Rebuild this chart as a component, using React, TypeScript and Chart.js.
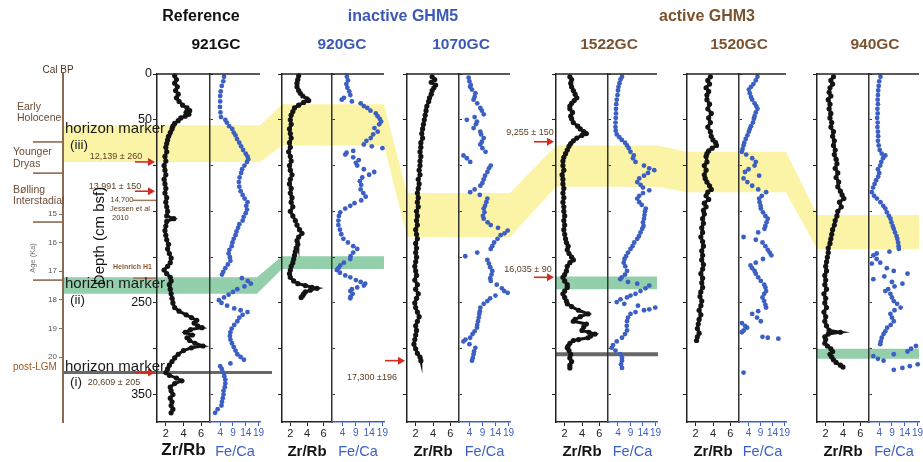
import React, { useEffect, useRef } from 'react';
import { Chart, registerables } from 'chart.js';

Chart.register(...registerables);

const FONT = "'Liberation Sans', Arial, Helvetica, sans-serif";

// ---------------- data ----------------
const coreNames = ['921GC', '920GC', '1070GC', '1522GC', '1520GC', '940GC'];
const groupNames = ['Reference', 'inactive GHM5', 'active GHM3'];
const zrTicks = [2, 4, 6];
const feTicks = [4, 9, 14, 19];
const zrRange = [1, 7];
const feRange = [0, 19.6];
const depthRange = [0, 380];
const depthTicks = [0, 50, 100, 150, 200, 250, 300, 350];
const depthLabelsShown = [0, 50, 250, 350];
const ageRange = [10.105, 22.27];
const ageTicks = [15, 16, 17, 18, 19, 20];
const periodBoundaries = [12.48, 13.57, 15.28, 17.31];

// horizon (iii) yellow band, per core: depth top / bottom (cm bsf)
const yellowTop = [56, 33, 130, 78, 85, 154];
const yellowBottom = [96, 78, 178, 123, 129, 191];
// horizon (ii) green band
const greenTop = [222, 199, null, 221, null, 300];
const greenBottom = [240, 213, null, 235, null, 311];
// horizon (i) grey line
const grayLineDepth = [326, null, null, 306, null, null];

// radiocarbon dates (red arrows)
const dateCore = [0, 0, 0, 2, 3, 3];
const dateDepth = [96, 128, 326, 313, 74, 222];
const dateLabel = ['12,139 ± 260', '13,991 ± 150', '20,609 ± 205', '17,300 ±196', '9,255 ± 150', '16,035 ± 90'];
// brown reference markers in 921GC
const refDepth = [138, 223];

// [depth cm, Zr/Rb]
const zr921: [number, number][] = [[2,3.0],[6,3.2],[10,3.0],[14,3.3],[18,3.1],[22,3.4],[26,3.2],[30,3.5],[34,3.9],[37,4.4],[40,4.7],[42,4.3],[44,4.6],[46,4.2],[48,3.7],[51,3.4],[54,3.0],[57,2.8],[60,2.7],[64,2.5],[68,2.3],[72,2.2],[76,2.1],[80,2.0],[85,2.1],[90,1.9],[95,2.0],[100,1.8],[105,1.9],[110,2.0],[115,1.8],[120,1.9],[125,2.0],[130,1.9],[135,2.1],[140,2.0],[145,2.1],[150,2.2],[155,2.1],[158,2.9],[161,2.1],[166,2.0],[171,1.9],[176,2.0],[181,2.1],[186,2.3],[191,2.2],[196,2.4],[201,2.6],[206,2.5],[210,2.2],[214,1.8],[218,2.1],[222,2.5],[226,2.6],[230,2.4],[235,2.5],[240,2.6],[245,2.7],[250,2.8],[255,3.0],[259,3.5],[263,4.3],[266,4.9],[269,5.5],[272,5.2],[275,5.6],[277,6.1],[279,4.8],[282,4.2],[285,5.0],[288,4.4],[291,4.7],[294,5.3],[297,6.2],[299,4.9],[302,4.0],[306,3.4],[310,3.0],[314,2.7],[318,2.4],[322,2.2],[326,2.0],[329,2.4],[332,3.2],[335,3.8],[338,3.0],[342,2.5],[346,2.6],[350,2.8],[354,2.5],[358,2.7],[362,2.6],[366,2.8],[370,2.6]];
const zr920: [number, number][] = [[2,3.0],[6,2.9],[10,2.8],[14,2.8],[18,3.0],[21,3.2],[24,3.5],[27,4.0],[29,4.2],[31,3.6],[34,3.0],[37,2.5],[41,2.3],[45,2.1],[50,2.0],[55,2.1],[60,1.9],[65,2.0],[70,2.1],[75,1.9],[80,2.0],[85,1.8],[90,2.0],[95,2.1],[100,1.9],[105,2.0],[110,2.2],[115,2.0],[120,1.9],[125,2.1],[130,2.0],[135,2.2],[140,2.1],[145,2.3],[150,2.0],[155,2.3],[160,2.6],[165,2.8],[170,3.1],[174,3.4],[178,3.0],[182,2.8],[186,2.9],[190,2.7],[194,2.6],[198,2.5],[202,2.4],[206,2.3],[210,2.1],[214,2.0],[218,1.9],[222,2.0],[226,2.4],[229,2.9],[231,3.8],[233,4.6],[234,5.2],[236,4.4],[238,3.8],[240,3.6],[242,3.5],[244,3.3]];
const zr1070: [number, number][] = [[3,3.9],[6,4.2],[9,3.8],[12,4.3],[15,4.1],[18,3.9],[22,3.8],[26,3.6],[30,3.5],[35,3.3],[40,3.2],[45,3.1],[50,3.0],[55,2.9],[60,2.8],[65,2.7],[70,2.8],[75,2.6],[80,2.6],[85,2.5],[90,2.6],[95,2.5],[100,2.5],[105,2.4],[110,2.5],[115,2.3],[120,2.4],[125,2.3],[130,2.2],[135,2.3],[140,2.2],[145,2.3],[150,2.1],[155,2.2],[160,2.1],[165,2.2],[170,2.0],[175,2.1],[180,2.2],[185,2.0],[190,2.1],[195,2.0],[200,2.1],[205,2.0],[210,1.9],[215,2.0],[220,2.1],[225,1.9],[230,2.2],[235,2.0],[240,2.3],[245,2.1],[250,1.9],[255,2.0],[260,2.2],[265,2.4],[270,2.2],[275,2.0],[280,2.1],[285,2.0],[290,1.9],[295,1.8],[300,2.0],[305,2.2],[309,2.5],[313,2.6]];
const zr1522: [number, number][] = [[3,2.6],[6,2.8],[10,2.7],[14,2.8],[18,3.0],[22,3.2],[26,3.4],[29,3.1],[32,2.8],[35,2.6],[38,2.6],[42,2.9],[46,2.7],[49,2.8],[53,3.0],[57,3.5],[60,3.8],[63,4.2],[65,4.5],[67,4.0],[70,3.4],[73,3.0],[76,2.7],[79,2.5],[83,2.3],[87,2.1],[91,1.9],[95,1.8],[100,1.8],[105,1.9],[110,1.7],[115,1.8],[120,1.8],[125,1.9],[130,1.8],[135,1.9],[140,1.8],[145,1.9],[150,1.9],[155,2.0],[160,1.9],[165,2.0],[170,1.9],[175,2.0],[180,2.1],[184,2.2],[188,2.4],[192,2.3],[196,2.5],[200,2.8],[203,3.0],[206,2.6],[210,2.3],[215,2.2],[219,2.0],[222,1.8],[226,2.0],[230,2.3],[233,2.3],[237,2.0],[240,1.8],[244,2.0],[248,2.2],[251,2.3],[254,2.8],[258,3.6],[262,4.7],[265,3.8],[268,3.2],[270,3.0],[273,4.5],[276,4.2],[280,4.0],[282,4.8],[284,5.5],[286,5.0],[288,4.7],[290,3.6],[291,3.0],[294,2.6],[297,2.4],[299,2.3],[302,2.5],[306,2.7],[310,2.6],[314,2.8],[318,2.6],[321,2.6]];
const zr1520: [number, number][] = [[3,3.7],[7,3.4],[11,3.6],[15,3.2],[19,3.5],[23,3.3],[28,3.3],[33,3.6],[38,3.4],[43,3.8],[48,3.5],[53,3.7],[58,3.4],[63,3.7],[68,3.8],[72,4.0],[75,4.3],[78,4.4],[81,3.9],[84,3.5],[87,3.3],[90,3.2],[96,3.3],[100,3.0],[105,3.2],[110,3.0],[114,3.1],[118,3.3],[122,3.6],[126,3.8],[129,3.4],[133,3.2],[137,3.5],[141,3.0],[145,3.2],[149,2.9],[153,3.0],[158,2.8],[163,2.9],[168,2.7],[173,2.8],[178,2.6],[183,2.8],[188,2.9],[193,2.7],[198,2.8],[203,2.7],[208,2.9],[213,2.8],[218,2.6],[223,2.8],[228,2.7],[233,2.8],[238,2.6],[243,2.5],[248,2.7],[253,2.6],[258,2.4],[263,2.6],[268,2.4],[273,2.3],[278,2.2],[283,2.4],[287,2.2],[291,2.1]];
const zr940: [number, number][] = [[3,2.9],[7,2.6],[11,2.8],[15,2.5],[20,2.4],[24,2.6],[28,2.3],[33,2.5],[38,2.4],[43,2.6],[48,2.5],[53,2.7],[58,2.6],[63,2.9],[68,2.8],[73,3.0],[78,2.9],[83,3.1],[88,3.0],[93,3.2],[98,3.3],[103,3.1],[108,3.4],[113,3.2],[118,3.5],[123,3.4],[128,3.7],[132,3.9],[136,4.1],[140,3.6],[145,3.8],[150,3.4],[155,3.3],[160,3.1],[165,3.0],[170,2.8],[175,2.7],[180,2.6],[185,2.5],[190,2.3],[195,2.3],[200,2.2],[205,2.1],[210,2.0],[215,2.1],[220,1.9],[225,2.0],[230,1.9],[235,2.1],[240,1.8],[245,2.0],[250,1.9],[255,2.1],[260,1.8],[265,2.0],[270,1.9],[275,2.1],[280,2.4],[282,3.7],[284,2.3],[287,1.9],[290,2.0],[294,1.9],[297,2.2],[300,2.6],[303,2.8],[306,2.5],[309,2.7],[312,2.9],[315,3.2],[318,3.7],[320,4.0]];

// [depth cm, Fe/Ca]
const fe921: [number, number][] = [[3,5.5],[8,5.2],[13,4.6],[19,4.2],[24,4.0],[30,4.0],[36,3.9],[42,4.1],[47,4.3],[50,6.0],[53,6.6],[57,7.5],[60,8.7],[64,9.3],[67,10.0],[71,10.6],[75,11.5],[79,12.2],[83,13.0],[87,14.0],[90,14.7],[93,15.0],[96,14.5],[100,13.5],[104,12.6],[108,12.2],[113,11.6],[118,11.3],[123,11.5],[128,12.0],[132,12.8],[136,13.6],[140,14.7],[144,14.2],[148,14.5],[152,14.0],[156,13.2],[160,12.8],[164,11.5],[168,11.0],[172,10.4],[176,10.0],[180,9.3],[184,8.8],[188,8.5],[192,7.6],[196,7.3],[200,7.8],[204,8.0],[208,7.0],[212,6.0],[216,5.2],[219,4.7],[223,12.5],[226,14.8],[229,16.0],[232,13.5],[235,10.7],[238,9.0],[241,7.3],[244,5.5],[247,3.5],[250,4.5],[253,6.7],[256,9.5],[258,12.0],[260,14.7],[263,12.8],[266,11.5],[270,10.7],[274,9.5],[278,8.5],[282,8.0],[286,7.8],[290,8.0],[294,8.6],[298,9.3],[302,10.0],[306,10.7],[309,12.0],[312,13.3],[316,8.0],[319,4.0],[322,4.6],[326,5.3],[330,5.6],[334,6.0],[338,6.0],[342,5.8],[346,5.3],[350,5.3],[354,5.0],[358,4.7],[362,4.5],[366,3.0],[370,2.0]];
const fe920: [number, number][] = [[3,5.6],[7,6.0],[11,5.4],[15,5.8],[19,6.5],[23,6.9],[26,4.5],[28,3.7],[30,7.5],[32,10.8],[35,12.0],[37,13.3],[40,14.5],[43,16.5],[46,17.2],[49,18.0],[52,18.5],[55,17.8],[59,16.0],[63,17.2],[66,15.5],[70,14.6],[73,13.0],[77,12.0],[79,15.0],[81,19.0],[84,8.0],[86,5.5],[88,5.0],[91,8.0],[94,10.1],[97,9.0],[100,9.5],[104,12.0],[107,15.9],[110,14.0],[113,11.4],[117,10.5],[121,11.0],[126,10.8],[130,11.8],[134,12.7],[138,11.0],[141,8.5],[144,6.9],[147,5.0],[151,3.1],[155,2.6],[160,2.4],[165,2.4],[170,3.0],[175,3.5],[180,4.3],[184,6.0],[188,8.0],[191,9.5],[195,8.0],[199,7.0],[202,6.9],[206,4.5],[209,3.1],[212,2.4],[214,1.8],[217,3.0],[220,5.0],[222,6.9],[225,9.0],[227,10.8],[229,12.5],[231,12.0],[233,9.5],[235,7.5],[237,6.9],[240,7.8],[243,7.0],[245,6.9]];
const fe1070: [number, number][] = [[4,3.7],[8,4.0],[12,4.5],[14,4.3],[17,5.0],[21,6.3],[25,6.0],[28,5.6],[32,7.0],[37,8.2],[40,8.8],[44,9.5],[47,6.0],[50,3.0],[52,6.9],[55,6.5],[59,5.6],[63,8.2],[66,8.5],[70,9.5],[74,8.8],[77,8.2],[81,9.0],[85,10.2],[89,1.7],[92,3.0],[96,4.3],[100,12.2],[103,11.5],[107,10.9],[111,10.0],[115,9.5],[119,9.0],[122,8.2],[126,6.0],[129,4.3],[132,8.0],[136,10.9],[140,10.5],[144,10.0],[147,9.5],[151,9.8],[155,9.2],[158,9.5],[162,11.0],[165,12.2],[168,15.0],[171,18.7],[174,17.5],[176,16.0],[180,14.8],[184,13.5],[188,12.8],[191,12.2],[195,7.0],[199,2.4],[203,10.9],[207,11.5],[211,12.0],[215,12.8],[219,12.5],[223,12.0],[226,12.2],[230,14.5],[234,16.5],[237,17.4],[239,18.7],[242,14.0],[245,12.0],[248,10.9],[251,9.5],[255,8.2],[259,8.0],[262,7.8],[266,7.6],[270,7.3],[274,7.0],[277,6.9],[281,6.0],[284,5.2],[288,4.3],[290,2.5],[292,1.7],[295,4.0],[299,6.3],[303,5.8],[306,5.6],[310,5.3],[313,5.0]];
const fe1522: [number, number][] = [[3,5.6],[6,5.0],[10,4.6],[14,4.2],[18,4.0],[23,3.8],[28,3.5],[33,3.3],[38,3.2],[43,3.2],[48,3.1],[53,3.0],[58,3.0],[62,3.1],[66,3.5],[69,4.5],[72,5.5],[75,6.8],[78,7.6],[81,8.3],[85,9.0],[89,10.3],[92,10.0],[96,11.0],[100,14.4],[103,16.5],[105,18.5],[108,16.0],[111,14.4],[114,12.5],[118,11.7],[121,13.0],[124,14.0],[127,16.5],[130,14.0],[133,12.5],[136,11.7],[140,12.5],[143,13.5],[147,15.1],[150,14.8],[154,14.6],[158,14.4],[162,14.0],[166,14.2],[169,13.7],[173,13.0],[177,12.4],[180,11.7],[184,10.5],[188,9.8],[191,9.0],[195,8.0],[199,7.2],[202,6.6],[206,6.3],[210,6.9],[215,7.6],[219,6.8],[222,5.5],[224,4.9],[227,8.0],[229,11.7],[231,16.5],[234,15.0],[237,13.0],[240,11.0],[242,9.0],[244,7.6],[246,5.0],[249,3.5],[251,6.5],[253,12.0],[255,18.9],[257,16.5],[258,14.4],[260,11.0],[262,9.0],[266,8.0],[270,7.6],[275,7.5],[280,7.6],[284,6.8],[288,5.6],[292,3.5],[296,2.0],[299,1.5],[302,3.0],[306,4.9],[310,5.6],[313,5.6],[317,5.2],[321,5.6]];
const fe1520: [number, number][] = [[3,7.7],[7,7.0],[11,6.0],[14,5.0],[17,4.1],[21,4.5],[25,5.0],[28,5.5],[32,6.5],[35,7.2],[38,7.7],[42,7.0],[46,6.5],[49,6.2],[53,5.8],[57,5.0],[60,4.5],[63,4.1],[67,3.5],[71,2.8],[75,2.2],[78,1.9],[82,1.5],[85,1.2],[88,3.0],[92,5.5],[96,7.0],[100,6.5],[104,4.0],[107,2.5],[111,8.4],[114,1.9],[118,3.5],[122,5.5],[126,8.0],[129,11.3],[133,9.5],[136,8.4],[140,8.6],[144,9.0],[147,9.1],[151,10.0],[155,11.0],[158,12.0],[162,11.5],[166,11.0],[169,10.6],[173,8.0],[178,1.9],[181,7.0],[184,9.8],[188,11.0],[192,12.0],[195,12.8],[198,13.5],[202,10.0],[206,7.0],[209,4.8],[212,5.5],[215,6.5],[218,7.0],[222,8.0],[226,9.1],[230,10.5],[233,11.0],[237,11.3],[240,10.5],[244,9.8],[248,10.5],[252,11.0],[255,11.3],[259,8.0],[262,5.5],[266,7.5],[270,9.1],[272,1.2],[275,2.5],[277,3.4],[280,2.0],[282,1.2],[287,9.8],[288,12.0],[289,16.4],[326,1.9]];
const fe940: [number, number][] = [[3,4.5],[8,4.0],[13,3.8],[18,3.6],[23,3.5],[28,3.4],[33,3.5],[38,3.3],[43,3.4],[48,3.2],[53,3.4],[58,3.3],[63,3.5],[68,3.6],[73,3.5],[78,3.8],[83,4.2],[87,5.0],[89,6.4],[92,5.5],[96,4.8],[100,4.4],[104,3.5],[108,4.0],[112,3.6],[116,2.8],[120,2.2],[124,1.6],[129,1.1],[133,2.0],[136,3.1],[140,4.5],[144,5.6],[147,6.4],[151,7.0],[155,7.8],[158,8.4],[162,8.8],[166,9.3],[169,9.7],[173,10.2],[177,10.8],[180,11.1],[184,11.4],[188,11.6],[191,11.7],[194,8.0],[196,3.0],[198,1.7],[202,3.0],[206,4.4],[207,1.1],[212,7.0],[215,9.7],[218,15.1],[221,6.0],[224,1.7],[227,9.0],[229,13.1],[232,10.0],[235,7.5],[237,6.4],[240,8.4],[244,9.0],[248,9.7],[251,11.0],[255,12.4],[258,10.0],[262,8.4],[266,9.0],[270,9.7],[274,8.5],[277,7.1],[281,6.4],[284,5.7],[288,5.0],[292,4.6],[295,4.4],[297,18.4],[300,16.5],[303,15.1],[306,9.7],[308,1.7],[311,3.5],[313,5.7],[317,19.1],[319,16.0],[321,13.1],[323,9.7]];

const zrSeries = [zr921, zr920, zr1070, zr1522, zr1520, zr940];
const feSeries = [fe921, fe920, fe1070, fe1522, fe1520, fe940];

// ---------------- layout / style ----------------
const W = 923, H = 462;
const PANEL_TOP = 74, PANEL_BOTTOM = 422;
const PANELS = [
  { zr: [157, 210], fe: [210, 260] },
  { zr: [282, 332], fe: [332, 384] },
  { zr: [407, 459], fe: [459, 510] },
  { zr: [556, 608], fe: [608, 657] },
  { zr: [687, 739], fe: [739, 786] },
  { zr: [817, 869], fe: [869, 919] },
];
const YW = 30, PADL = 2, PADR = 14, PADT = 10, XH = 40;
const BLACK = '#141414';
const BLUE = '#3c5fc3';
const BROWN_T = '#7b5230';
const YELLOW = '#fbf3a6';
const GREEN = '#93cfab';
const GRAY = '#686868';
const RED = '#d22b22';
const AXIS_BROWN = '#8b6a4f';
const TXT_BROWN = '#5e3d22';

const fix = (size: number, horizontal: boolean) => (s: any) => {
  if (horizontal) s.height = size; else s.width = size;
  s.paddingLeft = 0; s.paddingRight = 0; s.paddingTop = 0; s.paddingBottom = 0;
};
const setTicks = (vals: number[]) => (s: any) => { s.ticks = vals.map((v) => ({ value: v })); };

type PanelSpec = { core: number; kind: 'zr' | 'fe' };
const PANEL_LIST: PanelSpec[] = [];
coreNames.forEach((_, i) => { PANEL_LIST.push({ core: i, kind: 'zr' }); PANEL_LIST.push({ core: i, kind: 'fe' }); });

function geom(p: PanelSpec) {
  const [l, r] = PANELS[p.core][p.kind];
  const yw = p.kind === 'zr' ? YW : 0;
  return { left: l - yw - PADL, top: PANEL_TOP - PADT, width: r - l + yw + PADL + PADR, height: PANEL_BOTTOM - PANEL_TOP + PADT + XH };
}

const framePlugin = {
  id: 'frameTop',
  afterDraw(chart: any) {
    const { ctx, chartArea: a } = chart;
    ctx.save();
    ctx.strokeStyle = '#222';
    ctx.lineWidth = 1.4;
    ctx.beginPath();
    ctx.moveTo(a.left - 0.5, a.top);
    ctx.lineTo(a.right, a.top);
    ctx.stroke();
    ctx.restore();
  },
};

function panelConfig(p: PanelSpec): any {
  const isZr = p.kind === 'zr';
  const series = isZr ? zrSeries[p.core] : feSeries[p.core];
  const first = p.core === 0;
  const scales: any = {
    x: {
      type: 'linear',
      min: isZr ? zrRange[0] : feRange[0],
      max: isZr ? zrRange[1] : feRange[1],
      afterBuildTicks: setTicks(isZr ? zrTicks : feTicks),
      afterFit: fix(XH, true),
      border: { display: true, color: isZr ? '#222' : BLUE, width: 1.5 },
      grid: { display: true, drawOnChartArea: false, drawTicks: true, tickLength: 4, color: isZr ? '#222' : BLUE },
      ticks: { color: isZr ? '#222' : BLUE, font: { family: FONT, size: isZr ? 11 : 10 }, padding: 1, maxRotation: 0, autoSkip: false },
      title: {
        display: true,
        text: isZr ? 'Zr/Rb' : 'Fe/Ca',
        color: isZr ? BLACK : BLUE,
        font: { family: FONT, size: isZr ? (first ? 17 : 15) : 14.5, weight: isZr ? 'bold' : 'normal' },
        padding: { top: 0, bottom: 1 },
      },
    },
    y: {
      type: 'linear',
      display: isZr,
      min: depthRange[0],
      max: depthRange[1],
      reverse: true,
      afterBuildTicks: setTicks(depthTicks),
      afterFit: fix(isZr ? YW : 0, false),
      border: { display: true, color: '#222', width: 1.5 },
      grid: { display: true, drawOnChartArea: false, drawTicks: true, tickLength: 4, color: '#222' },
      ticks: {
        display: first,
        color: '#111',
        padding: 1,
        font: { family: FONT, size: 12.5 },
        callback: (v: number) => (depthLabelsShown.includes(v) ? String(v) : ''),
      },
    },
  };
  if (isZr) {
    scales.y2 = {
      type: 'linear',
      position: 'right',
      min: depthRange[0],
      max: depthRange[1],
      reverse: true,
      afterBuildTicks: setTicks(depthTicks),
      afterFit: fix(0, false),
      border: { display: true, color: '#333', width: 1.5 },
      grid: { display: true, drawOnChartArea: false, drawTicks: true, tickLength: 3, color: '#333' },
      ticks: { display: false },
    };
  }
  return {
    type: 'scatter',
    data: {
      datasets: [
        {
          data: series.map(([d, v]) => ({ x: v, y: d })),
          showLine: isZr,
          borderColor: BLACK,
          borderWidth: 3,
          pointRadius: isZr ? 2.6 : 2.4,
          pointBackgroundColor: isZr ? BLACK : BLUE,
          pointBorderWidth: 0,
          clip: false,
        },
      ],
    },
    options: {
      responsive: false,
      animation: false,
      events: [],
      layout: { autoPadding: false, padding: { left: PADL, right: PADR, top: PADT, bottom: 0 } },
      plugins: { legend: { display: false }, tooltip: { enabled: false } },
      scales,
    },
    plugins: [framePlugin],
  };
}

function text(ctx: any, s: string, x: number, y: number, size: number, color: string, opts: any = {}) {
  ctx.save();
  ctx.font = `${opts.bold ? 'bold ' : ''}${size}px ${FONT}`;
  ctx.fillStyle = color;
  ctx.textAlign = opts.align || 'left';
  ctx.textBaseline = 'middle';
  if (opts.rotate) {
    ctx.translate(x, y);
    ctx.rotate(opts.rotate);
    ctx.fillText(s, 0, 0);
  } else {
    ctx.fillText(s, x, y);
  }
  ctx.restore();
}

// label offsets relative to arrow tail (layout only)
const dateLabelOffset: [number, number][] = [[-19, -5], [-20, -5], [-21, 10], [-13, 17], [-4, -9], [-6, -8]];

const bgPlugin = {
  id: 'bgAnnotations',
  afterDraw(chart: any) {
    const { ctx } = chart;
    const dY = (d: number) => chart.scales.depth.getPixelForValue(d);
    const aY = (a: number) => chart.scales.age.getPixelForValue(a);
    const axisX = chart.chartArea.left;
    const bandL = (i: number) => (i === 0 ? axisX + 1 : PANELS[i].zr[0]);
    const bandR = (i: number) => PANELS[i].fe[1];

    ctx.save();
    // yellow band (horizon iii)
    ctx.fillStyle = YELLOW;
    ctx.beginPath();
    yellowTop.forEach((t, i) => {
      const y = dY(t);
      if (i === 0) ctx.moveTo(bandL(i), y); else ctx.lineTo(bandL(i), y);
      ctx.lineTo(bandR(i), y);
    });
    for (let i = yellowBottom.length - 1; i >= 0; i--) {
      const y = dY(yellowBottom[i]);
      ctx.lineTo(bandR(i), y);
      ctx.lineTo(bandL(i), y);
    }
    ctx.closePath();
    ctx.fill();

    // green bands (horizon ii) - runs of consecutive cores
    ctx.fillStyle = GREEN;
    let run: number[] = [];
    const flush = () => {
      if (!run.length) return;
      ctx.beginPath();
      run.forEach((i, k) => {
        const y = dY(greenTop[i] as number);
        if (k === 0) ctx.moveTo(bandL(i), y); else ctx.lineTo(bandL(i), y);
        ctx.lineTo(i === 0 ? bandR(i) - 3 : bandR(i), y);
      });
      for (let k = run.length - 1; k >= 0; k--) {
        const i = run[k];
        const y = dY(greenBottom[i] as number);
        ctx.lineTo(i === 0 ? bandR(i) - 3 : bandR(i), y);
        ctx.lineTo(bandL(i), y);
      }
      ctx.closePath();
      ctx.fill();
      run = [];
    };
    greenTop.forEach((t, i) => { if (t === null) flush(); else run.push(i); });
    flush();

    // grey line (horizon i)
    ctx.strokeStyle = GRAY;
    grayLineDepth.forEach((d, i) => {
      if (d === null) return;
      ctx.lineWidth = i === 0 ? 3 : 4;
      ctx.beginPath();
      ctx.moveTo(bandL(i), dY(d));
      ctx.lineTo(bandR(i) + (i === 0 ? 12 : 1), dY(d));
      ctx.stroke();
    });

    // timeline boundaries
    ctx.strokeStyle = AXIS_BROWN;
    ctx.lineWidth = 1.6;
    periodBoundaries.forEach((a) => {
      ctx.beginPath();
      ctx.moveTo(33, aY(a));
      ctx.lineTo(axisX, aY(a));
      ctx.stroke();
    });

    // brown reference markers in 921GC
    refDepth.forEach((d) => {
      const xe = PANELS[0].zr[0];
      ctx.strokeStyle = '#9c7a58';
      ctx.lineWidth = 1.5;
      ctx.beginPath();
      ctx.moveTo(xe - 24, dY(d));
      ctx.lineTo(xe, dY(d));
      ctx.stroke();
    });

    // red arrows with dates
    dateDepth.forEach((d, k) => {
      const xe = PANELS[dateCore[k]].zr[0] - 2;
      const xs = xe - 20;
      const y = dY(d);
      ctx.strokeStyle = RED;
      ctx.fillStyle = RED;
      ctx.lineWidth = 1.6;
      ctx.beginPath();
      ctx.moveTo(xs, y);
      ctx.lineTo(xe - 5, y);
      ctx.stroke();
      ctx.beginPath();
      ctx.moveTo(xe, y);
      ctx.lineTo(xe - 7, y - 4);
      ctx.lineTo(xe - 7, y + 4);
      ctx.closePath();
      ctx.fill();
      const [ox, oy] = dateLabelOffset[k];
      text(ctx, dateLabel[k], xs + ox, y + oy, 9, TXT_BROWN, { align: 'center' });
    });

    // reference marker labels
    text(ctx, '14,700', 122, dY(refDepth[0]), 7.5, TXT_BROWN, { align: 'center' });
    text(ctx, 'Jessen et al', 110, dY(refDepth[0]) + 9, 7.5, TXT_BROWN);
    text(ctx, '2010', 112, dY(refDepth[0]) + 18, 7.5, TXT_BROWN);
    text(ctx, 'Heinrich H1', 113, dY(refDepth[1]) - 11, 7, '#8a5a30', { bold: true });

    // horizon marker labels
    const hm = [[dY(yellowTop[0]) + 4, '(iii)'], [dY(greenTop[0] as number) + 7, '(ii)'], [dY(grayLineDepth[0] as number) - 6, '(i)']];
    hm.forEach(([y, s]) => {
      text(ctx, 'horizon marker', 65, y as number, 15, '#1a1a1a');
      text(ctx, s as string, 70, (y as number) + 16, 13.5, '#1a1a1a');
    });

    // timeline labels
    text(ctx, 'Cal BP', 58, 70, 10, '#4a3525', { align: 'center' });
    text(ctx, 'Early', 17, 107, 10.5, '#6b4c35');
    text(ctx, 'Holocene', 17, 118, 10.5, '#6b4c35');
    text(ctx, 'Younger', 13, 152, 10.5, '#6b4c35');
    text(ctx, 'Dryas', 13, 164, 10.5, '#6b4c35');
    text(ctx, 'Bølling', 13, 190, 10.5, '#6b4c35');
    text(ctx, 'Interstadial', 13, 201, 10.5, '#6b4c35');
    text(ctx, 'post-LGM', 13, 367, 10, '#9a5a25');
    text(ctx, 'Age (Ka)', 33, 258, 7.5, '#777', { align: 'center', rotate: -Math.PI / 2 });
    text(ctx, 'Depth (cm bsf)', 100, 236, 15, '#111', { align: 'center', rotate: -Math.PI / 2 });

    // titles
    text(ctx, groupNames[0], 201, 17, 16, '#111', { align: 'center', bold: true });
    text(ctx, groupNames[1], 403, 17, 16, '#3b58b8', { align: 'center', bold: true });
    text(ctx, groupNames[2], 707, 17, 16, BROWN_T, { align: 'center', bold: true });
    const coreColor = ['#111', '#3b58b8', '#3b58b8', BROWN_T, BROWN_T, BROWN_T];
    const coreX = [216, 342, 461, 609, 739, 875];
    coreNames.forEach((n, i) => text(ctx, n, coreX[i], 45, 15.5, coreColor[i], { align: 'center', bold: true }));
    ctx.restore();
  },
};

function bgConfig(): any {
  return {
    type: 'scatter',
    data: { datasets: [] },
    options: {
      responsive: false,
      animation: false,
      events: [],
      layout: { autoPadding: false, padding: { left: 0, top: PANEL_TOP, right: 4, bottom: H - PANEL_BOTTOM } },
      plugins: { legend: { display: false }, tooltip: { enabled: false } },
      scales: {
        x: { type: 'linear', display: false, min: 0, max: 1, afterFit: fix(0, true) },
        age: {
          type: 'linear',
          position: 'left',
          min: ageRange[0],
          max: ageRange[1],
          reverse: true,
          afterBuildTicks: setTicks(ageTicks),
          afterFit: fix(63, false),
          border: { display: true, color: AXIS_BROWN, width: 2 },
          grid: { display: true, drawOnChartArea: false, drawTicks: true, tickLength: 4, color: '#777' },
          ticks: { color: '#555', font: { family: FONT, size: 8 }, padding: 2 },
        },
        depth: {
          type: 'linear',
          position: 'right',
          display: false,
          min: depthRange[0],
          max: depthRange[1],
          reverse: true,
          afterFit: fix(0, false),
        },
      },
    },
    plugins: [bgPlugin],
  };
}

export default function App() {
  const bgRef = useRef<HTMLCanvasElement | null>(null);
  const panelRefs = useRef<(HTMLCanvasElement | null)[]>([]);

  useEffect(() => {
    const charts: Chart[] = [];
    if (bgRef.current) charts.push(new Chart(bgRef.current, bgConfig()));
    PANEL_LIST.forEach((p, k) => {
      const c = panelRefs.current[k];
      if (c) charts.push(new Chart(c, panelConfig(p)));
    });
    return () => charts.forEach((c) => c.destroy());
  }, []);

  return (
    <div style={{ position: 'absolute', left: 0, top: 0, width: W, height: H, background: '#fff', overflow: 'hidden' }}>
      <canvas ref={bgRef} width={W} height={H} style={{ position: 'absolute', left: 0, top: 0 }} />
      {PANEL_LIST.map((p, k) => {
        const g = geom(p);
        return (
          <canvas
            key={k}
            ref={(el) => { panelRefs.current[k] = el; }}
            width={g.width}
            height={g.height}
            style={{ position: 'absolute', left: g.left, top: g.top }}
          />
        );
      })}
    </div>
  );
}
